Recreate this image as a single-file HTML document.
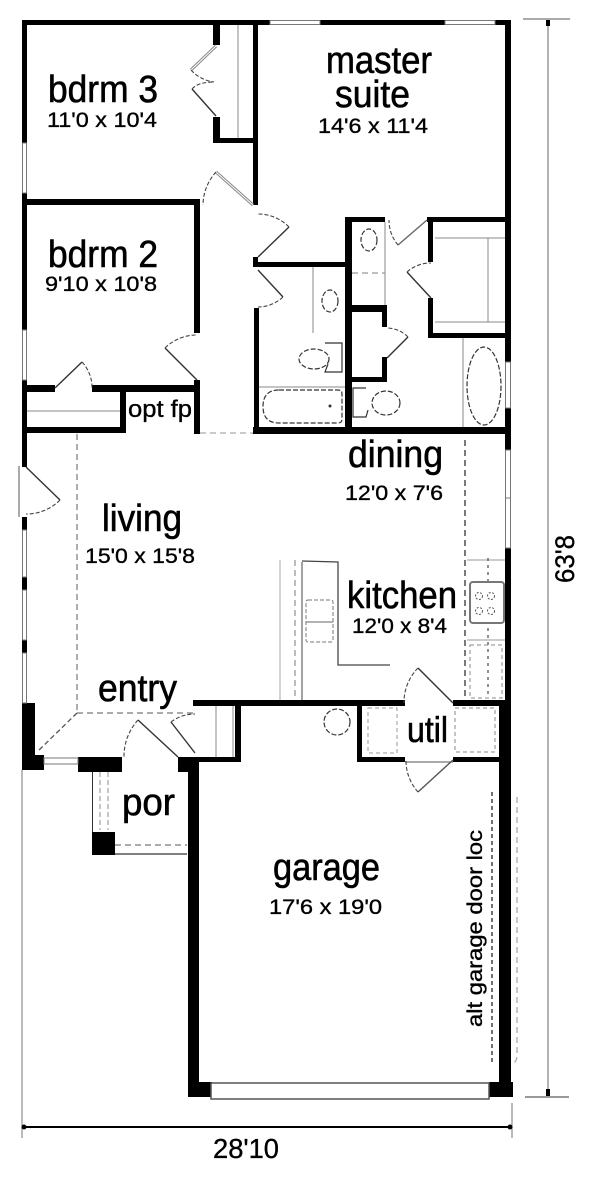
<!DOCTYPE html>
<html>
<head>
<meta charset="utf-8">
<style>
  html,body{margin:0;padding:0;background:#fff;}
  svg{display:block;}
  text{font-family:"Liberation Sans", Arial, sans-serif; fill:#000;}
  .big{stroke:#000;stroke-width:0.6px;}
  .sm{stroke:#000;stroke-width:0.35px;}
</style>
</head>
<body>
<svg width="600" height="1184" viewBox="0 0 600 1184" xmlns="http://www.w3.org/2000/svg">
  <rect x="0" y="0" width="600" height="1184" fill="#fff"/>

  <!-- ============ WALLS ============ -->
  <g fill="#000">
    <rect x="22" y="20" width="248" height="5"/>
    <rect x="320" y="20" width="125" height="5"/>
    <rect x="495" y="20" width="16" height="5"/>
    <rect x="22" y="20" width="5" height="123"/>
    <rect x="22" y="193" width="5" height="137"/>
    <rect x="22" y="380" width="5" height="87"/>
    <rect x="22" y="517" width="5" height="13"/>
    <rect x="22" y="577" width="5" height="13"/>
    <rect x="22" y="640" width="5" height="13"/>
    <rect x="22" y="703" width="13" height="67"/>
    <rect x="22" y="755" width="22" height="15"/>
    <rect x="78" y="757" width="44" height="15"/>
    <rect x="178" y="757" width="21" height="15"/>
    <rect x="188" y="757" width="11" height="340"/>
    <rect x="188" y="1082" width="24" height="15"/>
    <rect x="489" y="1082" width="24" height="15"/>
    <rect x="505" y="20" width="6" height="342"/>
    <rect x="505" y="408" width="6" height="42"/>
    <rect x="505" y="548" width="6" height="152"/>
    <rect x="499" y="700" width="12" height="397"/>

    <rect x="213" y="20" width="7" height="25"/>
    <rect x="213" y="117" width="7" height="26"/>
    <rect x="213" y="138" width="45" height="5"/>
    <rect x="253" y="20" width="5" height="185"/>
    <rect x="253" y="257" width="5" height="10"/>
    <rect x="253" y="262" width="99" height="5"/>
    <rect x="254" y="308" width="5" height="126"/>
    <rect x="345" y="217" width="7" height="217"/>
    <rect x="22" y="199" width="178" height="6"/>
    <rect x="194" y="199" width="6" height="134"/>
    <rect x="194" y="380" width="6" height="54"/>
    <rect x="22" y="385" width="33" height="7"/>
    <rect x="92" y="385" width="108" height="7"/>
    <rect x="22" y="427" width="104" height="6"/>
    <rect x="120" y="385" width="6" height="48"/>
    <rect x="253" y="427" width="258" height="7"/>
    <rect x="345" y="217" width="40" height="5"/>
    <rect x="427" y="217" width="84" height="5"/>
    <rect x="428" y="217" width="5" height="45"/>
    <rect x="428" y="298" width="5" height="40"/>
    <rect x="428" y="333" width="83" height="5"/>
    <rect x="352" y="305" width="35" height="7"/>
    <rect x="382" y="305" width="5" height="22"/>
    <rect x="382" y="357" width="5" height="25"/>
    <rect x="352" y="377" width="35" height="5"/>

    <rect x="193" y="700" width="212" height="6"/>
    <rect x="453" y="700" width="58" height="6"/>
    <rect x="235" y="700" width="6" height="62"/>
    <rect x="193" y="757" width="48" height="5"/>
    <rect x="357" y="706" width="5" height="56"/>
    <rect x="357" y="757" width="48" height="5"/>
    <rect x="453" y="757" width="46" height="5"/>
    <rect x="92" y="832" width="23" height="23"/>
  </g>

  <!-- ============ WINDOWS ============ -->
  <g fill="#fff" stroke="#777" stroke-width="1">
    <rect x="270" y="20.5" width="50" height="4"/>
    <rect x="445" y="20.5" width="50" height="4"/>
    <rect x="22.5" y="143" width="4" height="50"/>
    <rect x="22.5" y="330" width="4" height="50"/>
    <rect x="22.5" y="530" width="4" height="47"/>
    <rect x="22.5" y="590" width="4" height="50"/>
    <rect x="22.5" y="653" width="4" height="50"/>
    <rect x="44" y="758" width="34" height="6"/>
    <rect x="505.5" y="362" width="5" height="46"/>
    <rect x="505.5" y="450" width="5" height="98"/>
    <rect x="211" y="1083" width="278" height="16" stroke="#555" stroke-width="1.5"/>
  </g>
  <line x1="505" y1="498" x2="511" y2="498" stroke="#777"/>

  <!-- ============ THIN LINES / FIXTURES ============ -->
  <g fill="none" stroke="#888" stroke-width="1">
    <line x1="238" y1="25" x2="238" y2="138"/>
    <line x1="27" y1="411" x2="120" y2="411"/>
    <line x1="19" y1="466" x2="19" y2="517" stroke="#555"/>
    <line x1="435" y1="238" x2="505" y2="238"/>
    <line x1="435" y1="322" x2="505" y2="322"/>
    <line x1="488" y1="238" x2="488" y2="322"/>
    <line x1="313" y1="267" x2="313" y2="333"/>
    <line x1="259" y1="387" x2="345" y2="387"/>
    <line x1="385" y1="222" x2="385" y2="305"/>
    <line x1="463" y1="338" x2="463" y2="427"/>
    <line x1="216" y1="706" x2="216" y2="757"/>
    <line x1="233" y1="706" x2="233" y2="757"/>
    <line x1="92.5" y1="772" x2="92.5" y2="832" stroke="#333"/>
    <line x1="115" y1="854" x2="187" y2="854" stroke="#333" stroke-width="1.3"/>
    <line x1="280" y1="560" x2="280" y2="700" stroke="#aaa"/>
    <line x1="302" y1="562" x2="302" y2="700" stroke="#444"/>
    <polyline points="302,561 338,562 338,665 390,665" stroke="#444" stroke-width="1.3"/>
    <line x1="467" y1="560" x2="505" y2="560" stroke="#999"/>
    <line x1="467" y1="640" x2="505" y2="640" stroke="#999"/>
    <line x1="306" y1="622" x2="333" y2="622" stroke="#666"/>
    <line x1="405" y1="762" x2="453" y2="762" stroke="#555"/>
  </g>

  <g fill="none" stroke-width="1.3">
    <line x1="200" y1="433" x2="253" y2="433" stroke="#aaa" stroke-dasharray="6 4"/>
    <line x1="77" y1="434" x2="77" y2="713" stroke="#999" stroke-dasharray="6 4" stroke-width="1.6"/>
    <line x1="77" y1="713" x2="193" y2="713" stroke="#777" stroke-dasharray="6 4"/>
    <line x1="77" y1="713" x2="37" y2="752" stroke="#555" stroke-dasharray="5 3"/>
    <line x1="465" y1="440" x2="465" y2="698" stroke="#333" stroke-dasharray="6 4"/>
    <line x1="295" y1="560" x2="295" y2="700" stroke="#999" stroke-dasharray="6 4"/>
    <line x1="488" y1="558" x2="488" y2="698" stroke="#555" stroke-dasharray="3 4"/>
    <line x1="352" y1="273" x2="385" y2="273" stroke="#999" stroke-dasharray="6 4"/>
    <line x1="100" y1="772" x2="100" y2="830" stroke="#aaa" stroke-dasharray="5 3"/>
    <line x1="108" y1="772" x2="108" y2="830" stroke="#aaa" stroke-dasharray="5 3"/>
    <line x1="115" y1="845" x2="187" y2="845" stroke="#777" stroke-dasharray="6 4"/>
    <line x1="492" y1="792" x2="492" y2="1062" stroke="#444" stroke-dasharray="4 3" stroke-width="1.5"/>
    <path d="M517 797 L517 1055 Q517 1062 512 1064" stroke="#aaa" stroke-dasharray="6 4"/>
    <rect x="306" y="600" width="27" height="42" rx="2" stroke="#777" stroke-width="1" stroke-dasharray="4 2"/>
    <rect x="470" y="645" width="32" height="53" stroke="#888" stroke-width="1" stroke-dasharray="4 3"/>
    <rect x="368" y="708" width="29" height="45" stroke="#999" stroke-width="1" stroke-dasharray="4 3"/>
    <rect x="455" y="708" width="40" height="44" stroke="#888" stroke-width="1" stroke-dasharray="4 3"/>
  </g>

  <rect x="470" y="582" width="34" height="41" rx="3" fill="#fff" stroke="#777" stroke-width="2"/>
  <g fill="none" stroke="#555" stroke-width="1" stroke-dasharray="2 1.5">
    <circle cx="479" cy="596" r="3.5"/>
    <circle cx="491" cy="596" r="3.5"/>
    <circle cx="479" cy="611" r="3.5"/>
    <circle cx="491" cy="611" r="3.5"/>
  </g>

  <g fill="none" stroke="#333" stroke-width="1.2" stroke-dasharray="5 2">
    <ellipse cx="330" cy="301" rx="8" ry="11"/>
    <ellipse cx="369" cy="240" rx="8" ry="11"/>
    <ellipse cx="314" cy="359" rx="15" ry="10"/>
    <ellipse cx="386" cy="403" rx="14" ry="12"/>
    <ellipse cx="484" cy="386" rx="17" ry="39"/>
    <path d="M279 390 L338 390 Q342 390 342 394 L342 419 Q342 423 338 423 L279 423 Q263 423 263 406.5 Q263 390 279 390 Z"/>
    <circle cx="337" cy="722" r="13"/>
  </g>
  <g fill="none" stroke="#333" stroke-width="1.2">
    <path d="M325 343 L342 343 L342 372 L325 372 L328 364"/>
    <path d="M366 388 L353 388 L353 417 L366 417 L368 410"/>
  </g>
  <circle cx="330" cy="406" r="1.5" fill="#333"/>

  <!-- ============ DOORS ============ -->
  <g fill="none" stroke="#333" stroke-width="1.4">
    <line x1="216" y1="46" x2="191" y2="70" stroke="#888" stroke-width="3"/>
    <line x1="216" y1="46" x2="191" y2="70" stroke="#fff" stroke-width="1"/>
    <line x1="216" y1="116" x2="192" y2="89"/>
    <line x1="253" y1="205" x2="216" y2="172" stroke="#888" stroke-width="3"/>
    <line x1="253" y1="205" x2="216" y2="172" stroke="#fff" stroke-width="1"/>
    <line x1="258" y1="257" x2="289" y2="227"/>
    <line x1="258" y1="270" x2="283" y2="297"/>
    <line x1="197" y1="380" x2="165" y2="348"/>
    <line x1="55" y1="388" x2="82" y2="362"/>
    <line x1="427" y1="220" x2="398" y2="245" stroke="#666"/>
    <line x1="431" y1="298" x2="407" y2="272"/>
    <line x1="387" y1="358" x2="408" y2="337"/>
    <line x1="26" y1="467" x2="60" y2="500"/>
    <line x1="195" y1="753" x2="171" y2="722"/>
    <line x1="178" y1="757" x2="138" y2="720"/>
    <line x1="453" y1="703" x2="418" y2="668"/>
    <line x1="453" y1="760" x2="418" y2="792" stroke="#555"/>
  </g>
  <g fill="none" stroke="#444" stroke-width="1.1" stroke-dasharray="4 2">
    <path d="M191 70 Q200 80 214 82"/>
    <path d="M192 89 Q198 82 214 82"/>
    <path d="M216 172 A50 50 0 0 0 203 205"/>
    <path d="M289 227 A43 43 0 0 0 258 214"/>
    <path d="M283 297 A37 37 0 0 1 258 307"/>
    <path d="M165 348 A45 45 0 0 1 197 335"/>
    <path d="M82 362 A37 37 0 0 1 92 388"/>
    <path d="M398 245 A38 38 0 0 1 389 220"/>
    <path d="M407 272 A35 35 0 0 1 431 263"/>
    <path d="M408 337 A30 30 0 0 0 387 328"/>
    <path d="M60 500 A47 47 0 0 1 26 514"/>
    <path d="M171 722 A39 39 0 0 1 195 714"/>
    <path d="M138 720 A54 54 0 0 0 124 757"/>
    <path d="M418 668 A49 49 0 0 0 404 703"/>
    <path d="M418 792 A47 47 0 0 1 406 760"/>
  </g>

  <!-- ============ DIMENSIONS ============ -->
  <line x1="22" y1="1127" x2="512" y2="1127" stroke="#000" stroke-width="2"/>
  <line x1="22" y1="770" x2="22" y2="1138" stroke="#777" stroke-width="1"/>
  <line x1="512" y1="1103" x2="512" y2="1138" stroke="#777" stroke-width="1"/>
  <circle cx="24" cy="1127" r="2.5" fill="#000"/>
  <circle cx="510" cy="1127" r="2.5" fill="#000"/>
  <line x1="548" y1="20" x2="548" y2="1096" stroke="#999" stroke-width="1.5"/>
  <line x1="523" y1="19" x2="570" y2="19" stroke="#aaa" stroke-width="2"/>
  <line x1="525" y1="1097" x2="569" y2="1097" stroke="#999" stroke-width="2"/>
  <rect x="546" y="20" width="4" height="6" fill="#000"/>
  <rect x="546" y="1089" width="4" height="7" fill="#000"/>

  <!-- ============ TEXT ============ -->
  <g>
    <text class="big" x="48" y="102" font-size="38" textLength="110" lengthAdjust="spacingAndGlyphs">bdrm 3</text>
    <text class="sm" x="47" y="127" font-size="21" textLength="110" lengthAdjust="spacingAndGlyphs">11'0 x 10'4</text>
    <text class="big" x="48" y="267" font-size="38" textLength="110" lengthAdjust="spacingAndGlyphs">bdrm 2</text>
    <text class="sm" x="45" y="291" font-size="21" textLength="112" lengthAdjust="spacingAndGlyphs">9'10 x 10'8</text>
    <text class="sm" x="128" y="417" font-size="24" textLength="64" lengthAdjust="spacingAndGlyphs">opt fp</text>
    <text class="big" x="326" y="73" font-size="38" textLength="106" lengthAdjust="spacingAndGlyphs">master</text>
    <text class="big" x="335" y="107" font-size="38" textLength="75" lengthAdjust="spacingAndGlyphs">suite</text>
    <text class="sm" x="318" y="133" font-size="21" textLength="110" lengthAdjust="spacingAndGlyphs">14'6 x 11'4</text>
    <text class="big" x="102" y="531" font-size="38" textLength="80" lengthAdjust="spacingAndGlyphs">living</text>
    <text class="sm" x="85" y="563" font-size="21" textLength="110" lengthAdjust="spacingAndGlyphs">15'0 x 15'8</text>
    <text class="big" x="98" y="701" font-size="38" textLength="79" lengthAdjust="spacingAndGlyphs">entry</text>
    <text class="big" x="348" y="467" font-size="38" textLength="95" lengthAdjust="spacingAndGlyphs">dining</text>
    <text class="sm" x="345" y="500" font-size="21" textLength="98" lengthAdjust="spacingAndGlyphs">12'0 x 7'6</text>
    <text class="big" x="347" y="608" font-size="38" textLength="110" lengthAdjust="spacingAndGlyphs">kitchen</text>
    <text class="sm" x="352" y="633" font-size="21" textLength="95" lengthAdjust="spacingAndGlyphs">12'0 x 8'4</text>
    <text class="big" x="407" y="742" font-size="36" textLength="41" lengthAdjust="spacingAndGlyphs">util</text>
    <text class="big" x="122" y="815" font-size="38" textLength="53" lengthAdjust="spacingAndGlyphs">por</text>
    <text class="big" x="273" y="880" font-size="38" textLength="107" lengthAdjust="spacingAndGlyphs">garage</text>
    <text class="sm" x="269" y="914" font-size="21" textLength="113" lengthAdjust="spacingAndGlyphs">17'6 x 19'0</text>
    <text class="sm" transform="translate(482,1027) rotate(-90)" font-size="21" textLength="197" lengthAdjust="spacingAndGlyphs">alt garage door loc</text>
    <text class="sm" transform="translate(574,583) rotate(-90)" font-size="27" textLength="48" lengthAdjust="spacingAndGlyphs">63'8</text>
    <text class="sm" x="213" y="1158" font-size="28" textLength="66" lengthAdjust="spacingAndGlyphs">28'10</text>
  </g>
</svg>
</body>
</html>
